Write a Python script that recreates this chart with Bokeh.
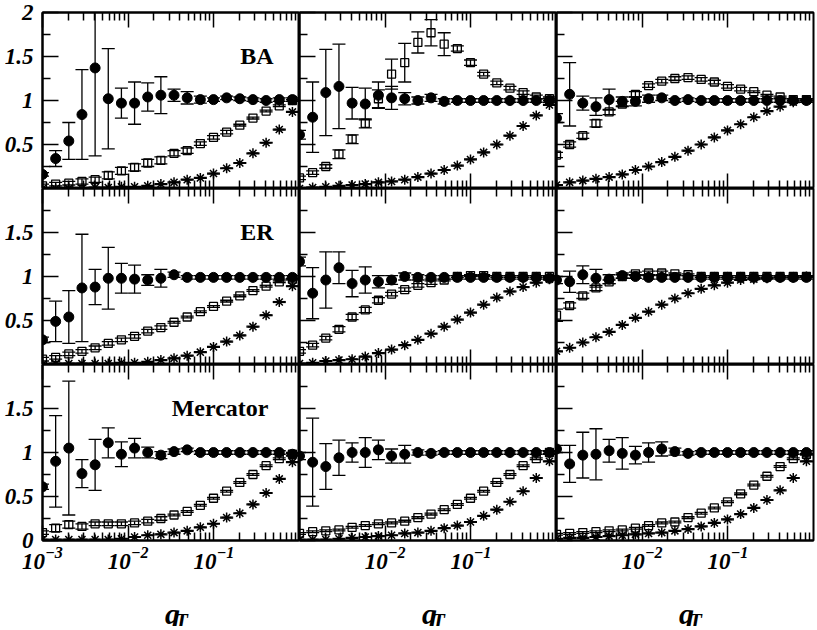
import math
from bokeh.plotting import figure
from bokeh.models import Range1d, FixedTicker, LogAxis, Label, NumeralTickFormatter
from bokeh.layouts import gridplot, column
from bokeh.core.properties import value
from bokeh.embed import file_html
from bokeh.resources import INLINE

# ---------------- data ----------------
q_T = [0.001, 0.001424, 0.002028, 0.002888, 0.004113, 0.005857, 0.00834, 0.01188,
       0.01692, 0.02409, 0.03431, 0.04886, 0.06958, 0.09909, 0.1411, 0.2010,
       0.2862, 0.4076, 0.5805, 0.8267]

networks = ["BA", "ER", "Mercator"]
axis_title = ["q", "T"]   # q with subscript T

# BA, column 1
ba1_circ = [0.16, 0.34, 0.54, 0.84, 1.37, 1.02, 0.97, 0.97, 1.04, 1.06, 1.06, 1.03, 1.01, 1.01, 1.03, 1.02, 1.01, 1.00, 1.01, 1.01]
ba1_circ_err = [0.02, 0.09, 0.21, 0.51, 1.00, 0.57, 0.17, 0.24, 0.16, 0.21, 0.07, 0.07, 0.04, 0.02, 0.02, 0.02, 0.02, 0.02, 0.02, 0.02]
ba1_sq = [0.03, 0.05, 0.06, 0.08, 0.10, 0.15, 0.20, 0.24, 0.29, 0.32, 0.40, 0.43, 0.51, 0.58, 0.64, 0.72, 0.80, 0.88, 0.94, 1.00]
ba1_sq_err = [0.02, 0.02, 0.02, 0.03, 0.03, 0.04, 0.04, 0.04, 0.04, 0.04, 0.03, 0.03, 0.02, 0.02, 0.02, 0.01, 0.01, 0.01, 0.01, 0.01]
ba1_star = [0.00, 0.00, 0.00, 0.00, 0.01, 0.01, 0.02, 0.02, 0.03, 0.05, 0.07, 0.10, 0.12, 0.17, 0.23, 0.29, 0.40, 0.52, 0.67, 0.87]

# BA, column 2
ba2_circ = [0.61, 0.81, 1.09, 1.16, 0.97, 0.96, 1.06, 1.03, 1.02, 1.00, 1.03, 0.99, 1.00, 1.00, 1.00, 1.00, 1.00, 1.00, 1.00, 1.00]
ba2_circ_err = [0.05, 0.40, 0.49, 0.48, 0.18, 0.18, 0.15, 0.13, 0.07, 0.04, 0.04, 0.03, 0.02, 0.02, 0.02, 0.02, 0.02, 0.02, 0.02, 0.02]
ba2_sq = [0.12, 0.18, 0.25, 0.39, 0.56, 0.74, 1.02, 1.30, 1.43, 1.66, 1.77, 1.64, 1.59, 1.43, 1.30, 1.20, 1.14, 1.09, 1.04, 1.02]
ba2_sq_err = [0.02, 0.02, 0.02, 0.05, 0.05, 0.05, 0.10, 0.17, 0.22, 0.12, 0.15, 0.13, 0.03, 0.03, 0.02, 0.02, 0.02, 0.02, 0.02, 0.02]
ba2_star = [0.00, 0.01, 0.02, 0.03, 0.04, 0.05, 0.07, 0.08, 0.10, 0.13, 0.17, 0.21, 0.26, 0.33, 0.41, 0.50, 0.60, 0.71, 0.83, 0.95]

# BA, column 3
ba3_circ = [0.80, 1.07, 0.97, 0.93, 1.01, 0.99, 0.99, 1.02, 1.03, 1.00, 1.01, 1.00, 1.00, 1.00, 1.00, 1.00, 1.00, 1.00, 1.00, 1.00]
ba3_circ_err = [0.05, 0.36, 0.08, 0.10, 0.12, 0.05, 0.05, 0.04, 0.03, 0.02, 0.02, 0.02, 0.02, 0.02, 0.02, 0.02, 0.02, 0.02, 0.02, 0.02]
ba3_sq = [0.38, 0.50, 0.60, 0.74, 0.87, 0.96, 1.07, 1.17, 1.22, 1.25, 1.26, 1.24, 1.21, 1.16, 1.13, 1.10, 1.06, 1.04, 1.01, 1.01]
ba3_sq_err = [0.03, 0.03, 0.03, 0.04, 0.03, 0.03, 0.03, 0.02, 0.02, 0.02, 0.02, 0.02, 0.02, 0.02, 0.02, 0.01, 0.01, 0.01, 0.01, 0.01]
ba3_star = [0.04, 0.07, 0.09, 0.11, 0.13, 0.16, 0.21, 0.25, 0.30, 0.36, 0.43, 0.50, 0.58, 0.66, 0.73, 0.81, 0.88, 0.93, 0.98, 1.00]

# ER, column 1
er1_circ = [0.28, 0.49, 0.54, 0.87, 0.88, 0.98, 0.98, 0.97, 0.96, 0.98, 1.02, 0.99, 0.99, 0.99, 0.99, 0.99, 0.99, 0.99, 0.99, 0.99]
er1_circ_err = [0.03, 0.23, 0.30, 0.61, 0.20, 0.35, 0.17, 0.16, 0.06, 0.10, 0.03, 0.02, 0.02, 0.02, 0.02, 0.02, 0.02, 0.02, 0.02, 0.02]
er1_sq = [0.06, 0.08, 0.12, 0.15, 0.19, 0.24, 0.28, 0.32, 0.38, 0.42, 0.48, 0.54, 0.60, 0.66, 0.72, 0.78, 0.84, 0.89, 0.94, 0.97]
er1_sq_err = [0.02, 0.02, 0.02, 0.02, 0.02, 0.02, 0.02, 0.02, 0.02, 0.02, 0.01, 0.01, 0.01, 0.01, 0.01, 0.01, 0.01, 0.01, 0.01, 0.01]
er1_star = [0.00, 0.01, 0.01, 0.01, 0.01, 0.01, 0.02, 0.02, 0.03, 0.05, 0.07, 0.10, 0.14, 0.20, 0.26, 0.33, 0.43, 0.56, 0.71, 0.89]

# ER, column 2
er2_circ = [1.17, 0.81, 0.96, 1.10, 0.92, 0.96, 0.94, 0.96, 1.00, 0.99, 0.99, 0.99, 0.99, 0.99, 0.99, 0.99, 0.99, 0.99, 0.99, 0.98]
er2_circ_err = [0.05, 0.29, 0.32, 0.18, 0.15, 0.15, 0.07, 0.05, 0.04, 0.03, 0.02, 0.02, 0.02, 0.02, 0.02, 0.02, 0.02, 0.02, 0.02, 0.02]
er2_sq = [0.15, 0.22, 0.30, 0.40, 0.54, 0.62, 0.73, 0.80, 0.85, 0.90, 0.93, 0.96, 1.00, 1.01, 1.01, 1.00, 1.00, 1.00, 1.00, 1.00]
er2_sq_err = [0.02, 0.02, 0.02, 0.03, 0.03, 0.03, 0.03, 0.02, 0.02, 0.02, 0.02, 0.01, 0.01, 0.01, 0.01, 0.01, 0.01, 0.01, 0.01, 0.01]
er2_star = [0.01, 0.02, 0.04, 0.05, 0.06, 0.09, 0.13, 0.17, 0.22, 0.28, 0.35, 0.43, 0.51, 0.59, 0.68, 0.76, 0.83, 0.88, 0.93, 0.97]

# ER, column 3
er3_circ = [0.96, 0.94, 1.02, 0.98, 0.97, 1.01, 1.00, 0.99, 0.99, 0.99, 0.99, 0.99, 0.99, 0.99, 0.99, 0.99, 0.99, 0.99, 0.99, 0.99]
er3_circ_err = [0.04, 0.12, 0.10, 0.10, 0.05, 0.03, 0.02, 0.02, 0.02, 0.02, 0.02, 0.02, 0.02, 0.02, 0.02, 0.02, 0.02, 0.02, 0.02, 0.02]
er3_sq = [0.56, 0.67, 0.78, 0.87, 0.94, 1.00, 1.03, 1.04, 1.04, 1.03, 1.02, 1.00, 1.00, 1.00, 1.00, 1.00, 1.00, 1.00, 1.00, 1.00]
er3_sq_err = [0.07, 0.03, 0.03, 0.03, 0.02, 0.02, 0.02, 0.02, 0.02, 0.01, 0.01, 0.01, 0.01, 0.01, 0.01, 0.01, 0.01, 0.01, 0.01, 0.01]
er3_star = [0.15, 0.19, 0.25, 0.31, 0.37, 0.45, 0.53, 0.60, 0.68, 0.75, 0.81, 0.86, 0.90, 0.93, 0.96, 0.97, 0.98, 0.99, 0.99, 1.00]

# Mercator, column 1
me1_circ = [0.61, 0.90, 1.05, 0.76, 0.86, 1.11, 0.98, 1.05, 1.00, 0.97, 1.01, 1.03, 1.00, 1.00, 1.00, 1.00, 1.00, 1.00, 1.00, 0.98]
me1_circ_err = [0.03, 0.52, 0.76, 0.16, 0.29, 0.17, 0.14, 0.11, 0.06, 0.04, 0.03, 0.02, 0.02, 0.02, 0.02, 0.02, 0.02, 0.02, 0.02, 0.02]
me1_sq = [0.09, 0.14, 0.18, 0.16, 0.19, 0.19, 0.19, 0.20, 0.22, 0.25, 0.29, 0.33, 0.40, 0.48, 0.56, 0.66, 0.75, 0.85, 0.93, 0.98]
me1_sq_err = [0.02, 0.04, 0.04, 0.03, 0.02, 0.02, 0.02, 0.02, 0.02, 0.02, 0.01, 0.01, 0.01, 0.01, 0.01, 0.01, 0.01, 0.01, 0.01, 0.01]
me1_star = [0.01, 0.01, 0.01, 0.01, 0.01, 0.01, 0.02, 0.04, 0.06, 0.07, 0.09, 0.11, 0.15, 0.19, 0.26, 0.31, 0.41, 0.54, 0.70, 0.89]

# Mercator, column 2
me2_circ = [0.96, 0.89, 0.84, 0.94, 1.00, 1.00, 1.03, 0.96, 0.98, 1.00, 0.99, 1.00, 1.00, 1.00, 1.00, 1.00, 1.00, 1.00, 1.00, 1.00]
me2_circ_err = [0.04, 0.50, 0.26, 0.20, 0.11, 0.17, 0.11, 0.08, 0.10, 0.03, 0.02, 0.02, 0.02, 0.02, 0.02, 0.02, 0.02, 0.02, 0.02, 0.02]
me2_sq = [0.08, 0.10, 0.11, 0.12, 0.15, 0.17, 0.19, 0.20, 0.22, 0.26, 0.30, 0.35, 0.41, 0.48, 0.56, 0.66, 0.75, 0.85, 0.93, 1.00]
me2_sq_err = [0.01, 0.01, 0.01, 0.01, 0.01, 0.01, 0.01, 0.01, 0.01, 0.01, 0.01, 0.01, 0.01, 0.01, 0.01, 0.01, 0.01, 0.01, 0.01, 0.01]
me2_star = [0.01, 0.01, 0.01, 0.02, 0.03, 0.04, 0.05, 0.06, 0.08, 0.09, 0.11, 0.14, 0.17, 0.21, 0.28, 0.35, 0.44, 0.56, 0.71, 0.90]

# Mercator, column 3
me3_circ = [1.04, 0.87, 0.97, 0.98, 1.02, 0.99, 0.97, 1.00, 1.04, 1.01, 0.99, 1.00, 1.00, 1.00, 1.00, 1.00, 1.00, 1.00, 1.00, 1.00]
me3_circ_err = [0.04, 0.21, 0.26, 0.29, 0.13, 0.18, 0.10, 0.11, 0.08, 0.04, 0.02, 0.02, 0.02, 0.02, 0.02, 0.02, 0.02, 0.02, 0.02, 0.02]
me3_sq = [0.07, 0.08, 0.09, 0.10, 0.11, 0.12, 0.14, 0.17, 0.20, 0.21, 0.26, 0.31, 0.37, 0.44, 0.53, 0.63, 0.73, 0.84, 0.93, 0.98]
me3_sq_err = [0.01, 0.01, 0.01, 0.01, 0.01, 0.01, 0.01, 0.01, 0.01, 0.01, 0.01, 0.01, 0.01, 0.01, 0.01, 0.01, 0.01, 0.01, 0.01, 0.01]
me3_star = [0.02, 0.03, 0.03, 0.04, 0.05, 0.06, 0.07, 0.08, 0.09, 0.11, 0.13, 0.16, 0.20, 0.24, 0.30, 0.37, 0.46, 0.57, 0.71, 0.90]

star_err = [0.005, 0.005, 0.005, 0.005, 0.005, 0.005, 0.005, 0.005, 0.005, 0.005,
            0.005, 0.005, 0.005, 0.005, 0.005, 0.005, 0.005, 0.005, 0.005, 0.005]

panels = [
    [(ba1_circ, ba1_circ_err, ba1_sq, ba1_sq_err, ba1_star),
     (ba2_circ, ba2_circ_err, ba2_sq, ba2_sq_err, ba2_star),
     (ba3_circ, ba3_circ_err, ba3_sq, ba3_sq_err, ba3_star)],
    [(er1_circ, er1_circ_err, er1_sq, er1_sq_err, er1_star),
     (er2_circ, er2_circ_err, er2_sq, er2_sq_err, er2_star),
     (er3_circ, er3_circ_err, er3_sq, er3_sq_err, er3_star)],
    [(me1_circ, me1_circ_err, me1_sq, me1_sq_err, me1_star),
     (me2_circ, me2_circ_err, me2_sq, me2_sq_err, me2_star),
     (me3_circ, me3_circ_err, me3_sq, me3_sq_err, me3_star)],
]

# ---------------- layout / style ----------------
FONT = "Liberation Serif"
FW, FH = 257, 176
LEFT_B, RIGHT_B, TOP_B, BOTTOM_B = 42, 3, 12, 44
TITLE_H = 42
X_MIN, X_MAX = 1e-3, 1.0
Y_MIN, Y_MAX = 0.0, 2.0
X_MINOR = [m * 10.0 ** e for e in (-3, -2, -1) for m in range(2, 10)]
Y_MINOR = [0.25, 0.75, 1.25, 1.75]
X_MAJOR = [10.0 ** -3, 10.0 ** -2, 10.0 ** -1]
Y_MAJOR = [0.0, 0.5, 1.0, 1.5, 2.0]


def style_axis(ax, ticks, minor, show, size="21px", standoff=8, major_in=15):
    ax.ticker = FixedTicker(ticks=ticks, minor_ticks=minor)
    ax.axis_line_color = "black"
    ax.axis_line_width = 2
    ax.major_tick_in = major_in
    ax.major_tick_out = 0
    ax.minor_tick_in = 8
    ax.minor_tick_out = 0
    ax.major_tick_line_color = "black"
    ax.minor_tick_line_color = "black"
    ax.major_tick_line_width = 1.5
    ax.minor_tick_line_width = 1.5
    if show:
        ax.major_label_text_font = FONT
        ax.major_label_text_font_style = "bold italic"
        ax.major_label_text_font_size = size
        ax.major_label_text_color = "black"
        ax.major_label_standoff = standoff
    else:
        ax.major_label_text_font_size = "1px"
        ax.major_label_text_alpha = 0
        ax.major_label_standoff = 0


def error_bars(p, x, y, err, lw=1.3):
    lo = [v - e for v, e in zip(y, err)]
    hi = [v + e for v, e in zip(y, err)]
    p.segment(x0=x, y0=lo, x1=x, y1=hi, line_color="black", line_width=lw)
    p.scatter(x=x + x, y=lo + hi, marker="dash", size=13, line_color="black", line_width=lw)


def make_panel(row, col):
    circ, circ_err, sq, sq_err, star = panels[row][col]
    lb = LEFT_B if col == 0 else 0
    rb = RIGHT_B if col == 2 else 0
    tb = TOP_B if row == 0 else 0
    bb = BOTTOM_B if row == 2 else 0
    p = figure(width=FW + lb + rb, height=FH + tb + bb,
               x_axis_type="log", x_range=Range1d(X_MIN, X_MAX),
               y_range=Range1d(Y_MIN, Y_MAX),
               output_backend="svg", toolbar_location=None,
               min_border_left=lb, min_border_right=rb,
               min_border_top=tb, min_border_bottom=bb)
    p.xgrid.visible = False
    p.ygrid.visible = False
    p.outline_line_color = "black"
    p.outline_line_width = 2
    p.background_fill_color = "white"
    p.border_fill_color = "white"

    xt = X_MAJOR if col == 0 else X_MAJOR[1:]
    if row == 0:
        yt = Y_MAJOR[1:]
    elif row == 1:
        yt = Y_MAJOR[1:4]
    else:
        yt = Y_MAJOR[:4]

    style_axis(p.xaxis[0], xt, X_MINOR, show=(row == 2), size="23px", standoff=6)
    top_axis = LogAxis()
    style_axis(top_axis, xt, X_MINOR, show=False)
    p.add_layout(top_axis, "above")
    style_axis(p.yaxis[0], yt, Y_MINOR, show=(col == 0), size="23px", standoff=9, major_in=16)
    p.yaxis[0].formatter = NumeralTickFormatter(format="0.[0]")

    # stars
    error_bars(p, q_T, star, star_err)
    p.scatter(q_T, star, marker="asterisk", size=10, line_color="black", line_width=1.5)
    # open squares
    error_bars(p, q_T, sq, sq_err)
    p.scatter(q_T, sq, marker="square", size=8, line_color="black", line_width=1.3,
              fill_alpha=0)
    # filled circles
    error_bars(p, q_T, circ, circ_err)
    p.scatter(q_T, circ, marker="circle", size=10, line_color="black", fill_color="black")

    if col == 0:
        off = -31 if row == 2 else -26
        p.add_layout(Label(x=X_MAX, y=Y_MAX, x_offset=off, y_offset=-43, text=networks[row],
                           text_align="right", text_baseline="alphabetic",
                           text_font=FONT, text_font_style="bold", text_font_size="24px",
                           text_color="black"))
    return p


grid = gridplot([[make_panel(r, c) for c in range(3)] for r in range(3)],
                toolbar_location=None)

# strip holding the x-axis title q_T under each column
col_centers = [0.5, 1.5, 2.5]
tf = figure(width=LEFT_B + 3 * FW + RIGHT_B, height=TITLE_H,
            x_range=Range1d(0, 3), y_range=Range1d(0, TITLE_H),
            x_axis_location=None, y_axis_location=None,
            output_backend="svg", toolbar_location=None,
            min_border_left=LEFT_B, min_border_right=RIGHT_B,
            min_border_top=0, min_border_bottom=0)
tf.xgrid.visible = False
tf.ygrid.visible = False
tf.outline_line_color = None
tf.text(x=col_centers, y=[13, 13, 13], text=[axis_title[0]] * 3, x_offset=9,
        text_align="right", text_baseline="alphabetic", text_color="black",
        text_font=value(FONT), text_font_style="bold italic", text_font_size=value("30px"))
tf.text(x=col_centers, y=[6, 6, 6], text=[axis_title[1]] * 3, x_offset=4,
        text_align="left", text_baseline="alphabetic", text_color="black",
        text_font=value(FONT), text_font_style="bold italic", text_font_size=value("21px"))

layout = column(grid, tf, spacing=0)
open("out.html", "w").write(file_html(layout, INLINE))
